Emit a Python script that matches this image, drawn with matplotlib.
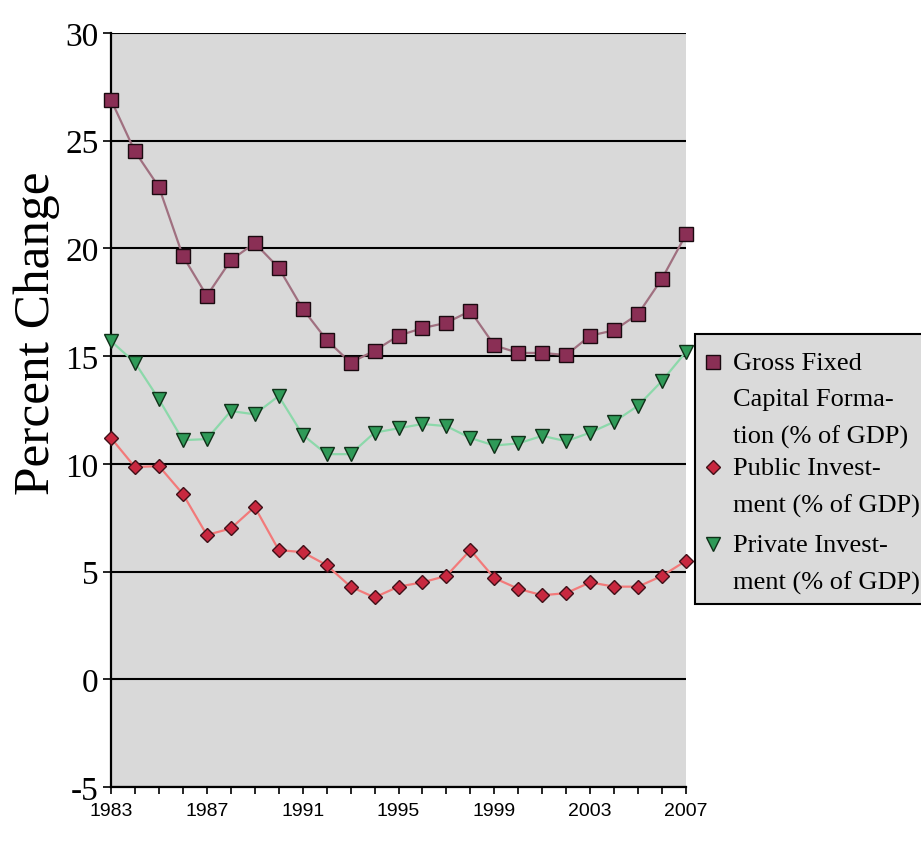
import matplotlib
matplotlib.use("Agg")
import matplotlib.pyplot as plt
from matplotlib.lines import Line2D
from matplotlib.patches import Rectangle
from matplotlib.ticker import MultipleLocator

years = list(range(1983, 2008))

gross_fixed = [26.9, 24.5, 22.85, 19.65, 17.8, 19.45, 20.25, 19.1, 17.2, 15.75,
               14.7, 15.25, 15.95, 16.3, 16.55, 17.1, 15.5, 15.15, 15.15, 15.05,
               15.95, 16.2, 16.95, 18.6, 20.65]
public_inv = [11.2, 9.85, 9.9, 8.6, 6.7, 7.0, 8.0, 6.0, 5.9, 5.3,
              4.3, 3.8, 4.3, 4.5, 4.8, 6.0, 4.7, 4.2, 3.9, 4.0,
              4.5, 4.3, 4.3, 4.8, 5.5]
private_inv = [15.7, 14.7, 13.0, 11.1, 11.15, 12.45, 12.3, 13.15, 11.35, 10.45,
               10.45, 11.45, 11.65, 11.85, 11.75, 11.2, 10.85, 10.95, 11.3, 11.05,
               11.45, 11.95, 12.7, 13.85, 15.2]

series_labels = ["Gross Fixed\nCapital Forma-\ntion (% of GDP)",
                 "Public Invest-\nment (% of GDP)",
                 "Private Invest-\nment (% of GDP)"]
y_ticks = [-5, 0, 5, 10, 15, 20, 25, 30]
x_tick_years = [1983, 1987, 1991, 1995, 1999, 2003, 2007]

plt.rcParams["axes.unicode_minus"] = False

W, H = 921, 845
SERIF = ["Liberation Serif", "DejaVu Serif"]
SANS = ["Liberation Sans", "DejaVu Sans"]

fig = plt.figure(figsize=(W / 100, H / 100), dpi=100)
fig.patch.set_facecolor("white")


def fx(px):
    return px / W


def fy(py):
    return 1 - py / H


ax = fig.add_axes([fx(111), fy(788), fx(686) - fx(111), fy(34) - fy(788)])
ax.set_facecolor("#d9d9d9")
ax.set_xlim(1983, 2007)
ax.set_ylim(-5, 30)

styles = [
    dict(marker="s", ms=9.5, mfc="#8a2f55", mec="#1a0a10", mew=1.0, color="#a07080"),
    dict(marker="D", ms=7.5, mfc="#c8283f", mec="#401018", mew=1.0, color="#f27a7a"),
    dict(marker="v", ms=10, mfc="#2f9a58", mec="#0f3018", mew=1.0, color="#8cd8aa"),
]
for vals, st in zip([gross_fixed, public_inv, private_inv], styles):
    ax.plot(years, vals, lw=1.6, clip_on=False, zorder=3, **st)

# Horizontal reference lines
ax.set_yticks(y_ticks)
ax.yaxis.grid(True, color="black", lw=1.5)
ax.set_axisbelow(True)

for side in ["top", "right"]:
    ax.spines[side].set_visible(False)
for side in ["left", "bottom"]:
    ax.spines[side].set_linewidth(1.6)
    ax.spines[side].set_color("black")

ax.set_xticks(x_tick_years)
ax.xaxis.set_minor_locator(MultipleLocator(1))
ax.tick_params(axis="x", which="both", direction="out", length=5, width=1.2,
               colors="black", pad=6)
ax.tick_params(axis="y", direction="out", length=6, width=1.2, pad=3)
for lab in ax.get_xticklabels():
    lab.set_family(SANS)
    lab.set_fontsize(14)
for lab in ax.get_yticklabels():
    lab.set_family(SERIF)
    lab.set_fontsize(24)

fig.text(fx(37), fy(333), "Percent Change", rotation=90, ha="center", va="center",
         family=SERIF, fontsize=37)

# Legend panel
fig.add_artist(Rectangle((fx(695), fy(605)), fx(960) - fx(695), fy(335) - fy(605),
                         transform=fig.transFigure, facecolor="#dadada",
                         edgecolor="black", lw=1.5, clip_on=False))
entry_y = [363, 468, 545]
for lbl, st, ey in zip(series_labels, styles, entry_y):
    mst = {k: v for k, v in st.items() if k != "color"}
    fig.add_artist(Line2D([fx(713)], [fy(ey)], transform=fig.transFigure,
                          linestyle="none", **mst))
    fig.text(fx(733), fy(ey - 10), lbl, ha="left", va="top", family=SERIF,
             fontsize=19, linespacing=1.82)

fig.savefig("out.png", dpi=100)
